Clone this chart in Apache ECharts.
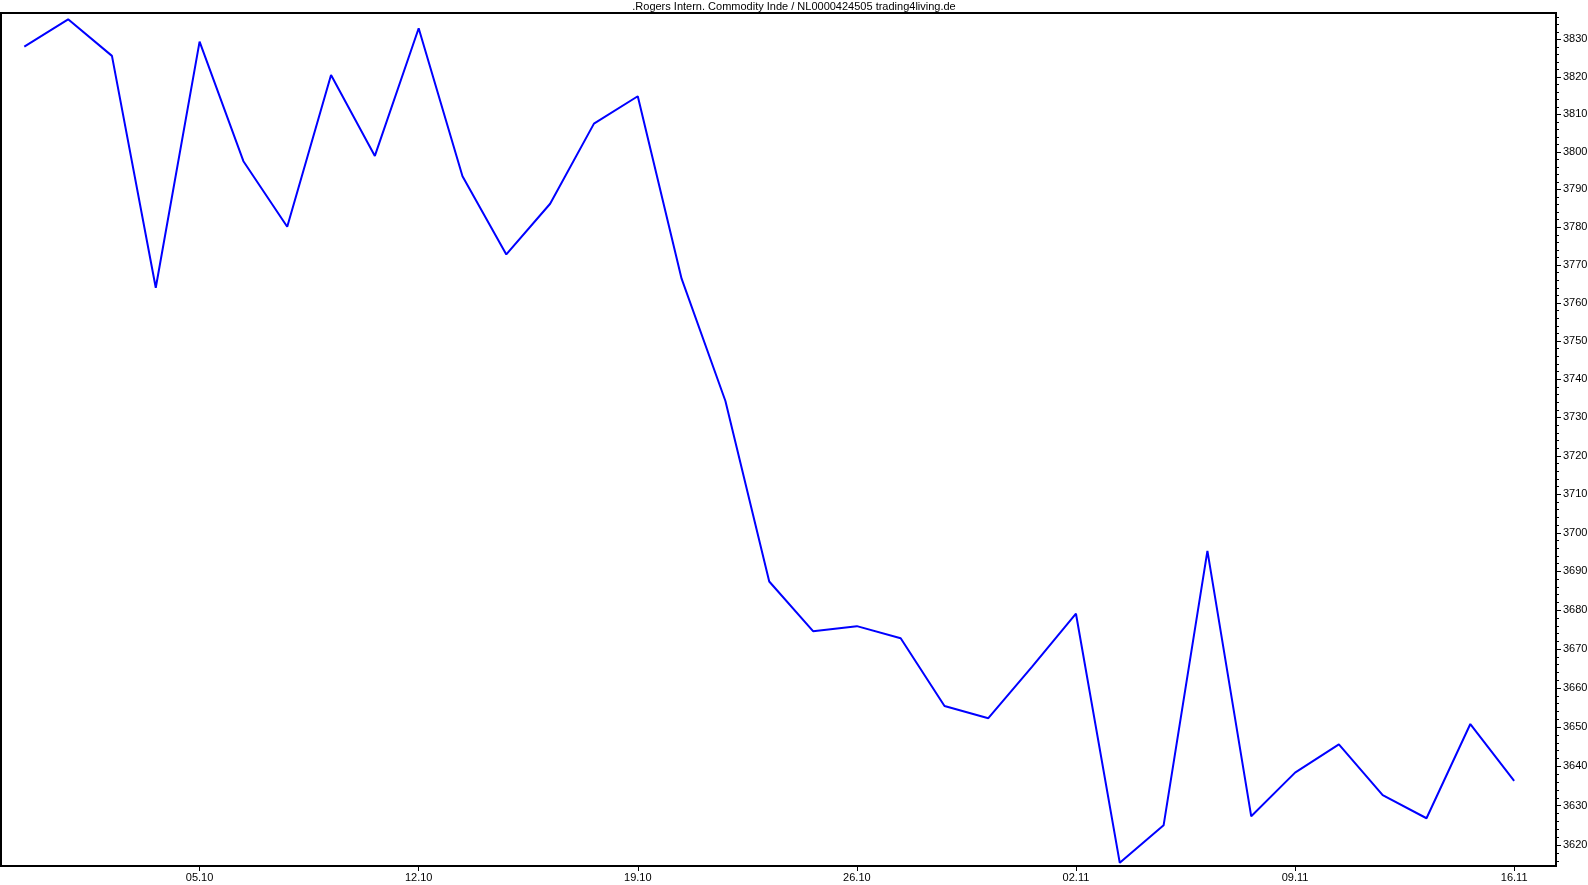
<!DOCTYPE html>
<html>
<head>
<meta charset="utf-8">
<script src="https://cdn.jsdelivr.net/npm/echarts@6/dist/echarts.min.js"></script>
<style>
html,body{margin:0;padding:0;background:#fff;}
#chart{width:1588px;height:885px;}
</style>
</head>
<body>
<div id="chart"></div>
<script>
const titleText = '.Rogers Intern. Commodity Inde / NL0000424505 trading4living.de';
const dates = ['29.09','30.09','01.10','02.10','05.10','06.10','07.10','08.10','09.10',
  '12.10','13.10','14.10','15.10','16.10','19.10','20.10','21.10','22.10','23.10',
  '26.10','27.10','28.10','29.10','30.10','02.11','03.11','04.11','05.11','06.11',
  '09.11','10.11','11.11','12.11','13.11','16.11'];
const values = [3828.1,3835.4,3825.6,3764.0,3829.4,3797.5,3780.1,3820.5,3798.9,
  3833.0,3793.5,3772.8,3786.2,3807.5,3814.8,3766.4,3734.3,3687.4,3674.6,
  3675.9,3672.8,3655.4,3652.3,3665.5,3679.1,3615.5,3625.0,3695.3,3627.3,
  3638.4,3645.6,3632.7,3626.8,3650.8,3636.3];
const xTickIndex = [4,9,14,19,24,29,34];
const yMajorTicks = [3620,3630,3640,3650,3660,3670,3680,3690,3700,3710,3720,3730,3740,3750,3760,3770,3780,3790,3800,3810,3820,3830];
const yMinorTicks = [];
for (let v = 3616; v <= 3836; v += 2) { if (v % 10 !== 0) yMinorTicks.push(v); }

const yMin = Math.log(3614.7), yMax = Math.log(3837.1);
const fontFam = 'Liberation Sans';

const chart = echarts.init(document.getElementById('chart'), null, {renderer:'canvas'});
chart.setOption({
  animation: false,
  backgroundColor: '#fff',
  title: {
    text: titleText, left: 'center', top: 0, padding: 0,
    textStyle: {fontSize: 11, fontWeight: 'normal', color: '#000', fontFamily: fontFam, lineHeight: 13}
  },
  grid: {left: 1, top: 13, right: 32, bottom: 19, show: true, borderColor: '#000', borderWidth: 2,
    backgroundColor: '#fff', containLabel: false, outerBoundsMode: 'none'},
  xAxis: {
    type: 'value', min: -0.532, max: 34.955,
    axisLine: {show: true, onZero: false, lineStyle: {color: '#000', width: 2}},
    axisTick: {show: true, length: 5, customValues: xTickIndex, lineStyle: {color: '#000'}},
    axisLabel: {show: true, customValues: xTickIndex, formatter: v => dates[Math.round(v)],
      color: '#000', fontSize: 11, fontFamily: fontFam, margin: 6},
    splitLine: {show: false}
  },
  yAxis: [{
    type: 'value', position: 'right', min: yMin, max: yMax,
    axisLine: {show: true, onZero: false, lineStyle: {color: '#000', width: 2}},
    axisTick: {show: true, length: 5, customValues: yMajorTicks.map(Math.log), lineStyle: {color: '#000'}},
    axisLabel: {show: true, customValues: yMajorTicks.map(Math.log), formatter: v => String(Math.round(Math.exp(v))),
      color: '#000', fontSize: 11, fontFamily: fontFam, margin: 7},
    splitLine: {show: false}
  }, {
    type: 'value', position: 'right', min: yMin, max: yMax,
    axisLine: {show: false, onZero: false},
    axisTick: {show: true, length: 3, customValues: yMinorTicks.map(Math.log), lineStyle: {color: '#000'}},
    axisLabel: {show: false},
    splitLine: {show: false}
  }],
  series: [{
    type: 'line',
    data: values.map((v, i) => [i, Math.log(v)]),
    symbol: 'none',
    lineStyle: {color: '#0000ff', width: 2},
    yAxisIndex: 0
  }]
});
</script>
</body>
</html>
